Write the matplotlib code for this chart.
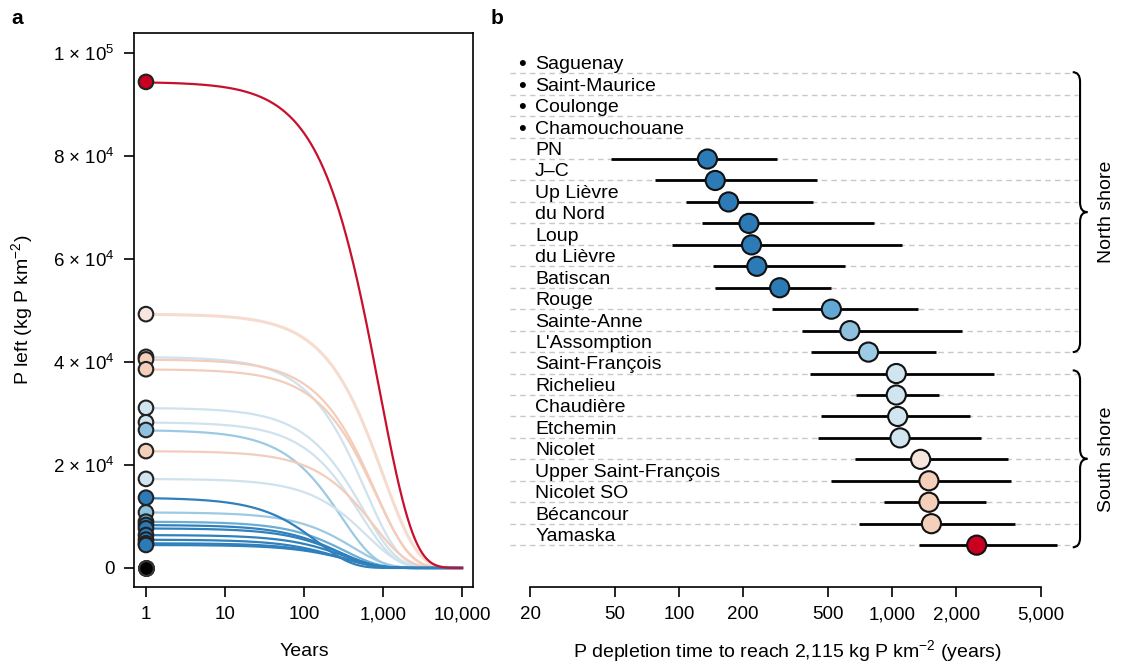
import numpy as np
import matplotlib.pyplot as plt
from matplotlib.path import Path
from matplotlib.patches import PathPatch

plt.rcParams["font.family"] = ["Liberation Sans", "DejaVu Sans"]
plt.rcParams["mathtext.fontset"] = "custom"
plt.rcParams["mathtext.rm"] = "Liberation Sans"
plt.rcParams["mathtext.it"] = "Liberation Sans:italic"
plt.rcParams["font.size"] = 13.5

# Colour classes (by depletion time)
DARK = "#2c7bb6"
MED = "#62a8d4"
LIGHT = "#8fc1de"
PALE = "#d1e5f0"
WHITE = "#f7e6de"
SALMON = "#f4cfba"
RED = "#ca0020"

LINE = {DARK: "#3080bb", MED: "#6aaed6", LIGHT: "#9cc9e3", PALE: "#cfe2ee",
        WHITE: "#f6dccf", SALMON: "#f3cdbb", RED: "#c8102e"}

# Panel a: P left at year 1 and e-folding time of the depletion curve
p_start = [94400, 49300, 41000, 40500, 38600, 31100, 28300, 26800, 22700, 17300,
           13650, 10800, 9000, 8350, 7700, 6400, 5500, 4800, 4470]
tau_years = [900, 1000, 600, 800, 820, 560, 520, 300, 760, 620,
             150, 420, 330, 280, 300, 320, 290, 340, 360]
colors_a = [RED, WHITE, PALE, SALMON, SALMON, PALE, PALE, LIGHT, SALMON, PALE,
            DARK, LIGHT, MED, DARK, DARK, DARK, DARK, DARK, DARK]
p_zero = [0, 0, 0, 0]

# Panel b: depletion time to reach 2,115 kg P km-2 (years)
rivers = ["Saguenay", "Saint-Maurice", "Coulonge", "Chamouchouane", "PN", "J\u2013C",
          "Up Lièvre", "du Nord", "Loup", "du Lièvre", "Batiscan", "Rouge",
          "Sainte-Anne", "L'Assomption", "Saint-François", "Richelieu", "Chaudière",
          "Etchemin", "Nicolet", "Upper Saint-François", "Nicolet SO", "Bécancour",
          "Yamaska"]
no_data = ["Saguenay", "Saint-Maurice", "Coulonge", "Chamouchouane"]
t_mid = [136, 148, 171, 213, 219, 232, 297, 519, 634, 775,
         1047, 1047, 1063, 1090, 1362, 1489, 1489, 1530, 2496]
t_low = [48, 77, 108, 128, 93, 144, 147, 274, 379, 418,
         414, 681, 464, 451, 671, 515, 918, 701, 1336]
t_high = [287, 444, 427, 824, 1109, 603, 517, 1323, 2131, 1614,
          2997, 1660, 2333, 2606, 3484, 3608, 2750, 3785, 5970]
colors_b = [DARK] * 7 + [MED, LIGHT, "#9ccbe6"] + [PALE] * 4 + [WHITE] + [SALMON] * 3 + [RED]
north = (1, 14)
south = (15, 23)

fig = plt.figure(figsize=(11.21, 6.69), dpi=100)

# Panel a
# ----------------------------------------------------------------------------
ax = fig.add_axes([0.1195, 0.1226, 0.3024, 0.8281])
t = np.logspace(0, 4, 500)
for p0, tau, c in sorted(zip(p_start, tau_years, colors_a), key=lambda r: r[2] == DARK):
    lw = 2.2 if c == WHITE else 1.6
    ax.plot(t, p0 * np.exp(-t / tau), color=LINE[c], lw=lw, zorder=2 if c != RED else 3)
ax.scatter(np.ones(len(p_zero)), p_zero, s=110, color="black", ec="#333333", lw=1.5, zorder=4)
ax.scatter(np.ones(len(p_start)), p_start, s=110, color=colors_a, ec="#222222", lw=1.5, zorder=5)

ax.set_xscale("log")
ax.set_xlim(10 ** -0.152, 10 ** 4.139)
ax.set_ylim(-3690, 103900)
ax.set_xticks([1, 10, 100, 1000, 10000])
ax.set_xticklabels(["1", "10", "100", "1,000", "10,000"])
ax.xaxis.set_minor_locator(plt.NullLocator())
ax.set_yticks([0, 20000, 40000, 60000, 80000, 100000])
ax.set_yticklabels(["0", r"2 × 10$^4$", r"4 × 10$^4$", r"6 × 10$^4$",
                    r"8 × 10$^4$", r"1 × 10$^5$"])
ax.tick_params(direction="out", length=7, width=1.2, pad=7)
for s in ax.spines.values():
    s.set_linewidth(1.2)
fig.text(304 / 1121, 1 - 652 / 669, "Years", ha="center", va="center", size=14)
fig.text(22 / 1121, 1 - 310 / 669, r"P left (kg P km$^{-2}$)", rotation=90,
         ha="center", va="center", size=14)

# Panel b
# ----------------------------------------------------------------------------
bx = fig.add_axes([510 / 1121, 0.1226, 611 / 1121, 547 / 669])
bx.set_xscale("log")
bx.set_xlim(10 ** 1.2071, 10 ** 4.0744)
bx.set_ylim(24.95, -0.55)
rows = np.arange(1, len(rivers) + 1)
tr = bx.get_yaxis_transform()

for r, name in zip(rows, rivers):
    bx.plot([0, 0.93], [r, r], transform=tr, color="#c8c8c8", lw=1,
            dashes=(4, 3), zorder=1)
    bx.text(0.041, r - 0.4, name, transform=tr, ha="left", va="center", size=14)
    if name in no_data:
        bx.text(0.0196, r - 0.4, "\u2022", transform=tr, ha="center", va="center", size=16)

data_rows = rows[len(no_data):]
bx.hlines(data_rows, t_low, t_high, color="black", lw=2, zorder=2)
bx.scatter(t_mid, data_rows, s=190, color=colors_b, ec="#111111", lw=1.5, zorder=3)

for s in ["top", "left", "right"]:
    bx.spines[s].set_visible(False)
bx.spines["bottom"].set_bounds(20, 5000)
bx.spines["bottom"].set_linewidth(1.2)
bx.set_yticks([])
bx.set_xticks([20, 50, 100, 200, 500, 1000, 2000, 5000])
bx.set_xticklabels(["20", "50", "100", "200", "500", "1,000", "2,000", "5,000"])
bx.xaxis.set_minor_locator(plt.NullLocator())
bx.tick_params(direction="out", length=7, width=1.2, pad=7)
fig.text(787 / 1121, 1 - 651 / 669, r"P depletion time to reach 2,115 kg P km$^{-2}$ (years)",
         ha="center", va="center", size=14)


def brace(y0, y1, label):
    xl, xm, xt = 0.921, 0.933, 0.945
    h = 0.45
    ym = (y0 + y1) / 2
    verts = [(xl, y0), (xm, y0), (xm, y0 + h), (xm, ym - h), (xm, ym), (xt, ym),
             (xm, ym), (xm, ym + h), (xm, y1 - h), (xm, y1), (xl, y1)]
    codes = [Path.MOVETO, Path.CURVE3, Path.CURVE3, Path.LINETO, Path.CURVE3, Path.CURVE3,
             Path.CURVE3, Path.CURVE3, Path.LINETO, Path.CURVE3, Path.CURVE3]
    bx.add_patch(PathPatch(Path(verts, codes), transform=tr, fc="none", ec="black",
                           lw=1.5, clip_on=False))
    bx.text(0.977, ym, label, transform=tr, rotation=90, ha="center", va="center", size=14)


brace(north[0] - 0.05, north[1], "North shore")
brace(south[0] - 0.15, south[1] + 0.1, "South shore")

fig.text(17 / 1121, 1 - 18 / 669, "a", weight="bold", size=15, ha="center", va="center")
fig.text(497 / 1121, 1 - 18 / 669, "b", weight="bold", size=15, ha="center", va="center")

fig.savefig("out.png", dpi=100)
